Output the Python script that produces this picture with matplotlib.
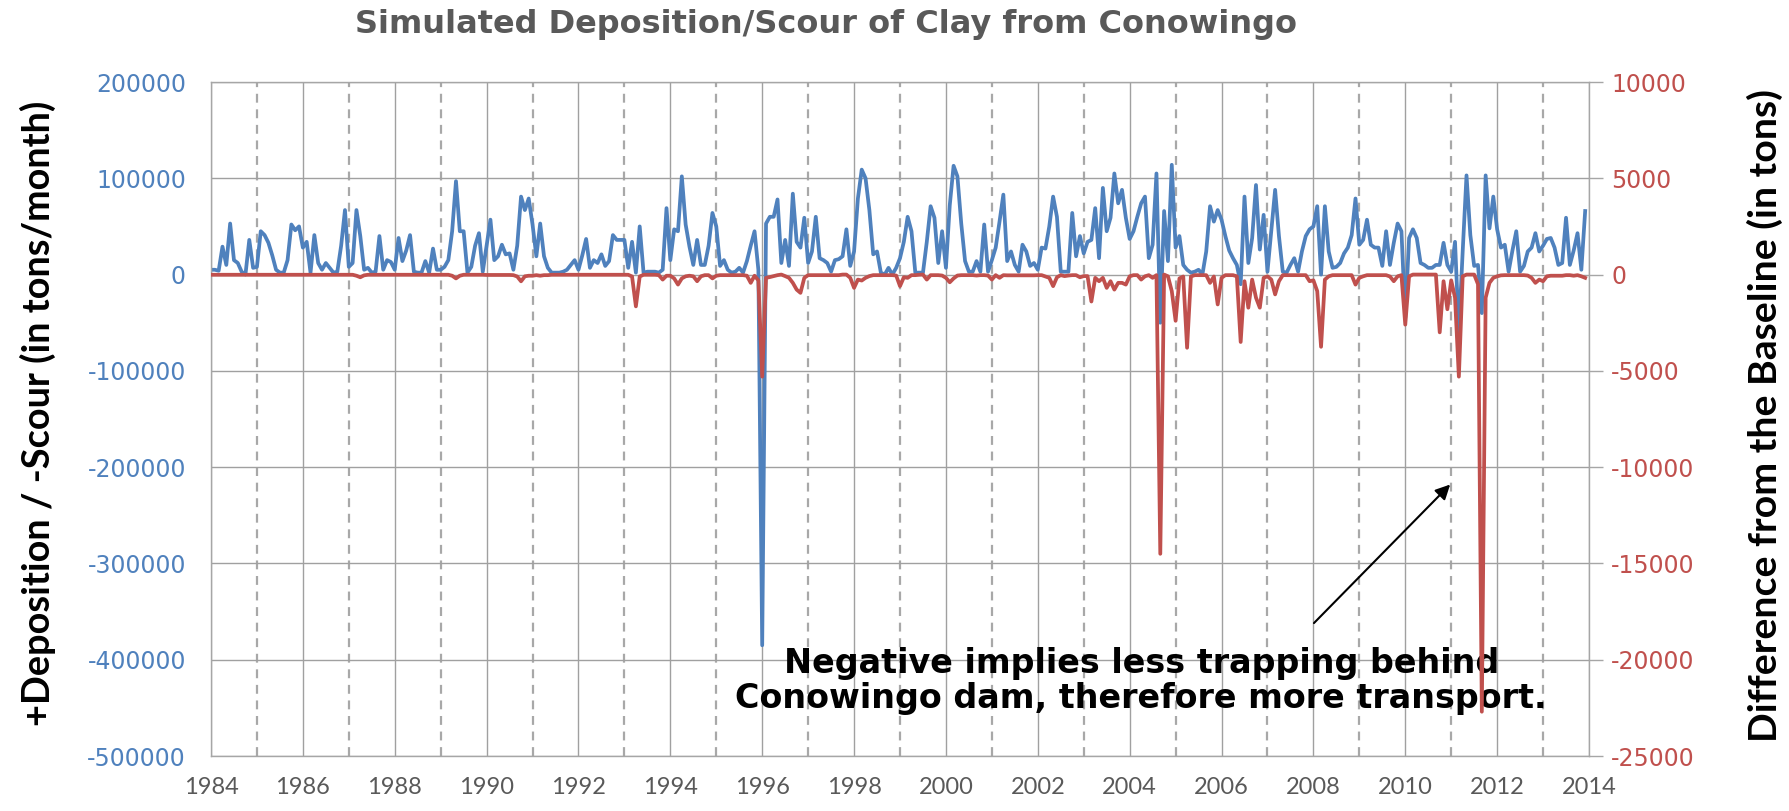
import numpy as np
import matplotlib.pyplot as plt

plt.rcParams['axes.unicode_minus'] = False

# monthly values, Jan..Dec, one row per year 1984-2013
years = list(range(1984, 2014))

# +deposition / -scour, thousand tons per month (left axis)
deposition_kt = [
    [5, 5, 4, 29, 10, 53, 15, 12, 3, 0, 36, 7],            # 1984
    [8, 45, 41, 33, 20, 5, 2, 2, 15, 52, 46, 50],          # 1985
    [28, 34, 2, 41, 12, 5, 12, 7, 2, 3, 30, 67],           # 1986
    [8, 12, 67, 40, 5, 7, 2, 3, 40, 5, 15, 13],            # 1987
    [5, 38, 14, 25, 41, 3, 2, 2, 14, 2, 27, 5],            # 1988
    [5, 8, 15, 45, 97, 45, 45, 2, 8, 30, 43, 3],           # 1989
    [30, 57, 15, 19, 31, 21, 22, 5, 30, 81, 67, 79],       # 1990
    [52, 19, 53, 19, 7, 2, 2, 2, 3, 5, 10, 15],            # 1991
    [5, 20, 37, 7, 15, 12, 21, 9, 14, 41, 36, 36],         # 1992
    [36, 7, 34, 2, 50, 2, 3, 3, 3, 2, 5, 69],              # 1993
    [15, 47, 45, 102, 52, 29, 10, 36, 10, 10, 30, 64],     # 1994
    [50, 9, 15, 5, 2, 3, 7, 2, 14, 30, 45, 5],             # 1995
    [-385, 53, 60, 60, 78, 12, 36, 9, 84, 34, 28, 59],     # 1996
    [12, 24, 60, 17, 15, 12, 3, 15, 16, 19, 47, 9],        # 1997
    [24, 79, 109, 100, 67, 21, 24, 2, 0, 7, 0, 7],         # 1998
    [17, 34, 60, 45, 2, 2, 2, 34, 71, 59, 12, 45],         # 1999
    [7, 72, 113, 102, 53, 14, 3, 3, 14, 3, 52, 3],         # 2000
    [15, 28, 55, 83, 14, 24, 10, 3, 31, 24, 9, 12],        # 2001
    [5, 28, 27, 50, 81, 60, 3, 3, 3, 64, 19, 40],          # 2002
    [22, 34, 36, 69, 17, 90, 45, 59, 105, 74, 88, 59],     # 2003
    [37, 45, 60, 74, 81, 17, 31, 105, -50, 66, 14, 114],   # 2004
    [28, 40, 10, 5, 2, 3, 5, 0, 24, 71, 55, 67],           # 2005
    [57, 40, 25, 17, 10, -10, 81, 12, 38, 93, 26, 62],     # 2006
    [3, 45, 88, 40, 3, 2, 10, 17, 3, 24, 40, 47],          # 2007
    [50, 71, 0, 71, 24, 7, 8, 12, 22, 28, 41, 79],         # 2008
    [31, 36, 57, 31, 28, 28, 9, 45, 10, 33, 53, 45],       # 2009
    [-45, 38, 47, 38, 12, 10, 7, 7, 10, 10, 33, 10],       # 2010
    [3, 34, -60, 24, 103, 41, 9, 10, -40, 103, 48, 81],    # 2011
    [47, 28, 31, 3, 25, 45, 3, 9, 24, 28, 43, 24],         # 2012
    [30, 37, 38, 28, 10, 12, 59, 10, 25, 43, 5, 66],       # 2013
]

# difference from the baseline, tons (right axis)
difference_t = [
    [-10, -10, -10, -10, -10, -10, -10, -10, -10, -10, -10, -10],
    [-10, -10, -10, -10, -10, -10, -10, -10, -10, -10, -10, -10],
    [-10, -10, -10, -10, -10, -10, -10, -10, -10, -10, -10, -10],
    [-10, -10, -60, -140, -40, -10, -10, -10, -10, -10, -10, -10],
    [-10, -10, -10, -10, -10, -10, -10, -10, -10, -10, -10, -10],
    [-10, -10, -10, -60, -200, -60, -10, -10, -10, -10, -10, -10],
    [-20, -20, -20, -20, -20, -20, -20, -30, -100, -350, -90, -60],
    [-60, -30, -60, -30, -30, -10, -10, -10, -10, -10, -10, -10],
    [-10, -10, -10, -10, -10, -10, -10, -10, -10, -10, -10, -10],
    [-10, -10, -100, -1650, -100, -10, -10, -10, -10, -30, -260, -60],
    [-60, -200, -520, -200, -90, -60, -90, -345, -90, -30, -30, -200],
    [-60, -30, -30, -30, -30, -30, -30, -30, -60, -430, -60, -300],
    [-5300, -170, -130, -80, -30, 0, -80, -170, -430, -780, -950, -170],
    [-30, -30, -30, -30, -30, -30, -30, -30, -30, 0, 0, -170],
    [-690, -260, -310, -170, -80, -30, -30, -30, -30, -30, -30, -50],
    [-600, -140, -170, -30, -30, -10, 0, -260, -30, -30, -30, -50],
    [-170, -400, -200, -50, -30, -30, -30, -30, -50, -30, -30, -50],
    [-260, -30, -170, -30, -40, -40, -40, -40, -40, -40, -40, -40],
    [-30, -30, -100, -170, -600, -140, -30, -80, -50, -30, -30, -140],
    [-80, -80, -1400, -170, -345, -170, -690, -345, -780, -430, -430, -520],
    [-90, -30, -30, -260, -90, -30, -170, -30, -14500, 0, -90, -860],
    [-2400, -200, -100, -3800, -100, -30, -30, -30, -30, -430, -100, -1550],
    [-170, -30, -30, -30, -90, -3500, -345, -1720, -260, -1200, -1720, -170],
    [-90, -260, -1030, -345, -30, -30, -30, -30, -30, -30, -30, -345],
    [-300, -860, -3750, -260, -90, -30, -30, -30, -30, -30, -30, -520],
    [-170, -90, -30, -30, -30, -30, -30, -30, -100, -345, -90, -30],
    [-2600, -90, 0, 0, 0, 0, 0, 0, 0, -3000, -345, -1800],
    [-300, -1200, -5300, -90, 0, 0, 0, -500, -22700, -1200, -430, -170],
    [-90, -40, -30, -30, -30, -30, -30, -30, -50, -170, -430, -260],
    [-345, -90, -60, -60, -60, -60, -30, -30, -60, -30, -90, -170],
]

left_ticks = list(range(-500000, 200001, 100000))
right_ticks = list(range(-25000, 10001, 5000))
year_ticks = list(range(1984, 2015, 2))

BLUE = '#4F81BD'
RED = '#C0504D'
GRID = '#A0A0A0'

t = np.array([y + m / 12 for y in years for m in range(12)])
dep = np.array(deposition_kt).ravel() * 1000
diff = np.array(difference_t).ravel()

W, H = 1789, 811
fig = plt.figure(figsize=(W / 100, H / 100), dpi=100)
ax = fig.add_axes([211 / W, 1 - 756 / H, (1589 - 211) / W, (756 - 82) / H])

ax.set_xlim(1984, 2014)
ax.set_ylim(-500000, 200000)
ax.set_xticks(year_ticks)
ax.set_xticks(range(1985, 2014, 2), minor=True)
ax.set_yticks(left_ticks)
ax.grid(True, which='major', color=GRID, lw=1.0)
ax.grid(True, which='minor', axis='x', color='#A8A8A8', lw=1.6, linestyle=(0, (4, 3)))
ax.set_axisbelow(True)
for s in ax.spines.values():
    s.set_color('#A6A6A6')
    s.set_linewidth(1.0)
ax.tick_params(which='both', length=0)
ax.tick_params(axis='y', labelcolor=BLUE, labelsize=17, pad=18)
ax.tick_params(axis='x', labelcolor='#595959', labelsize=17, pad=15)
for lab in ax.get_xticklabels():
    lab.set_family('Lato')

ax.plot(t, dep, color=BLUE, lw=2.7, solid_joinstyle='round')

ax2 = ax.twinx()
ax2.set_ylim(-25000, 10000)
ax2.set_yticks(right_ticks)
ax2.tick_params(axis='y', length=10, width=1, color='#A6A6A6', labelcolor=RED, labelsize=17, pad=6)
for s in ax2.spines.values():
    s.set_visible(False)
ax2.plot(t, diff, color=RED, lw=2.7, solid_joinstyle='round')

fig.text(826 / W, 1 - 25 / H, 'Simulated Deposition/Scour of Clay from Conowingo',
         ha='center', va='center', fontsize=23, fontweight='bold', color='#595959')
fig.text(38 / W, 1 - 413 / H, '+Deposition / -Scour (in tons/month)', rotation=90,
         ha='center', va='center', fontsize=27.3, fontweight='bold', family='Lato')
fig.text(1765 / W, 1 - 416 / H, 'Difference from the Baseline (in tons)', rotation=90,
         ha='center', va='center', fontsize=28.3, fontweight='bold', family='Lato')

ax.annotate('', xy=(2011.02, -216000), xytext=(2007.97, -364000),
            arrowprops=dict(arrowstyle='-|>', color='black', lw=1.5, mutation_scale=22))
ax.text(2004.25, -422000, 'Negative implies less trapping behind\nConowingo dam, therefore more transport.',
        ha='center', va='center', fontsize=24, fontweight='bold', linespacing=1.1)

fig.savefig('out.png', dpi=100)
